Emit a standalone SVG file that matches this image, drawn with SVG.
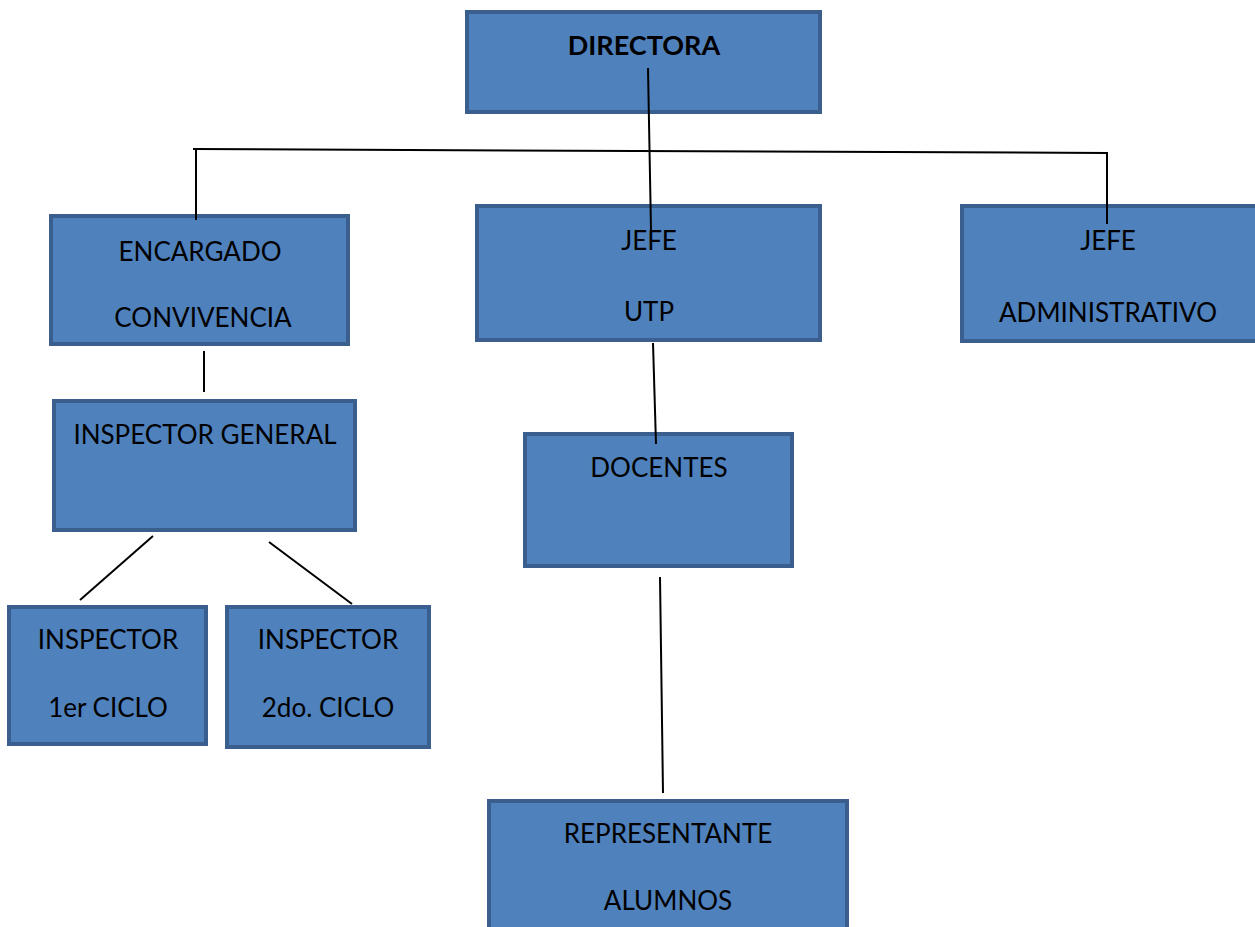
<svg xmlns="http://www.w3.org/2000/svg" width="1255" height="927" viewBox="0 0 1255 927">
<style>
.box{fill:#4F81BD;stroke:#3A5F8F;stroke-width:4}
.t{font-family:Lato,"Open Sans","Liberation Sans",sans-serif;font-size:26px;fill:#000;text-anchor:middle}
.b{font-weight:bold;font-size:27px}
.c{stroke:#000;stroke-width:2;fill:none}
</style>
<rect width="1255" height="927" fill="#fff"/>
<g id="directora"><rect class="box" x="467" y="12" width="353" height="100"/><text class="t b" x="644" y="55">DIRECTORA</text></g>
<g id="encargado"><rect class="box" x="51" y="216" width="297" height="128"/><text class="t" x="200" y="261">ENCARGADO</text><text class="t" x="203" y="327">CONVIVENCIA</text></g>
<g id="jefe-utp"><rect class="box" x="477" y="206" width="343" height="134"/><text class="t" x="649" y="250">JEFE</text><text class="t" x="649" y="321">UTP</text></g>
<g id="jefe-admin"><rect class="box" x="962" y="206" width="297" height="135"/><text class="t" x="1108" y="250">JEFE</text><text class="t" x="1108" y="322">ADMINISTRATIVO</text></g>
<g id="inspector-general"><rect class="box" x="54" y="401" width="301" height="129"/><text class="t" x="205" y="444">INSPECTOR GENERAL</text></g>
<g id="docentes"><rect class="box" x="525" y="434" width="267" height="132"/><text class="t" x="659" y="477">DOCENTES</text></g>
<g id="inspector-1"><rect class="box" x="9" y="607" width="197" height="137"/><text class="t" x="108" y="649">INSPECTOR</text><text class="t" x="108" y="717">1er CICLO</text></g>
<g id="inspector-2"><rect class="box" x="227" y="607" width="202" height="140"/><text class="t" x="328" y="649">INSPECTOR</text><text class="t" x="328" y="717">2do. CICLO</text></g>
<g id="representante"><rect class="box" x="489" y="801" width="358" height="140"/><text class="t" x="668" y="843">REPRESENTANTE</text><text class="t" x="668" y="910">ALUMNOS</text></g>
<g id="connectors">
<line class="c" x1="648" y1="68" x2="651" y2="230"/>
<line class="c" x1="193" y1="149" x2="1108" y2="153"/>
<line class="c" x1="196" y1="149" x2="196" y2="220"/>
<line class="c" x1="1107" y1="153" x2="1107" y2="224"/>
<line class="c" x1="204" y1="351" x2="204" y2="392"/>
<line class="c" x1="153" y1="536" x2="80" y2="600"/>
<line class="c" x1="269" y1="542" x2="352" y2="604"/>
<line class="c" x1="653" y1="343" x2="656" y2="444"/>
<line class="c" x1="660" y1="577" x2="663" y2="793"/>
</g>
</svg>
